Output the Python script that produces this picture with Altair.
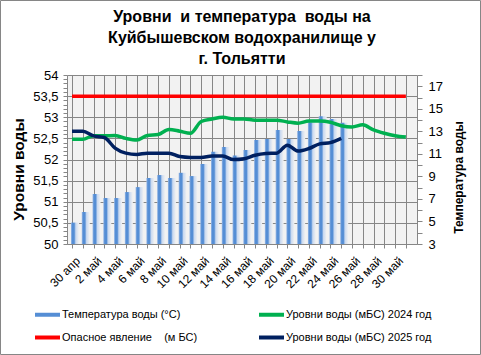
import json
import altair as alt
import pandas as pd

dates = ["30 апр", "1 май", "2 май", "3 май", "4 май", "5 май", "6 май", "7 май",
         "8 май", "9 май", "10 май", "11 май", "12 май", "13 май", "14 май", "15 май",
         "16 май", "17 май", "18 май", "19 май", "20 май", "21 май", "22 май", "23 май",
         "24 май", "25 май", "26 май", "27 май", "28 май", "29 май", "30 май", "31 май"]

temperature = [4.9, 5.84, 7.44, 7.08, 7.08, 7.61, 8.05, 8.86, 9.12, 8.86, 9.32, 9.03, 10.1,
               11.19, 11.61, 10.85, 11.34, 12.23, 12.32, 13.12, 12.32, 13.03, 13.8, 14.33,
               14.09, 13.77]

level_2024 = [52.48, 52.48, 52.56, 52.56, 52.57, 52.50, 52.46, 52.57, 52.59, 52.71, 52.67,
              52.62, 52.90, 52.96, 53.00, 52.96, 52.96, 52.93, 52.93, 52.93, 52.89, 52.86,
              52.91, 52.91, 52.88, 52.80, 52.77, 52.82, 52.70, 52.62, 52.56, 52.53]

level_2025 = [52.67, 52.67, 52.56, 52.52, 52.27, 52.15, 52.12, 52.15, 52.15, 52.15, 52.07,
              52.05, 52.05, 52.08, 52.08, 52.00, 52.02, 52.10, 52.14, 52.15, 52.34, 52.20,
              52.26, 52.37, 52.40, 52.50]

danger = [53.5, 53.5, 53.5, 53.5, 53.5, 53.5, 53.5, 53.5, 53.5, 53.5, 53.5, 53.5, 53.5,
          53.5, 53.5, 53.5, 53.5, 53.5, 53.5, 53.5, 53.5, 53.5, 53.5, 53.5, 53.5, 53.5,
          53.5, 53.5, 53.5, 53.5, 53.5, 53.5]

n_temp = "Температура воды (°С)"
n_2024 = "Уровни воды (мБС) 2024 год"
n_danger = "Опасное явление \u00a0\u00a0\u00a0(м БС)"
n_2025 = "Уровни воды (мБС) 2025 год"

# legend fills column by column: left column first, then right column
series_names = [n_temp, n_danger, n_2024, n_2025]
series_colors = ["#558ed5", "#ff0000", "#00b050", "#002060"]

left_ticks = [50.0, 50.1, 50.2, 50.3, 50.4, 50.5, 50.6, 50.7, 50.8, 50.9, 51.0, 51.1, 51.2,
              51.3, 51.4, 51.5, 51.6, 51.7, 51.8, 51.9, 52.0, 52.1, 52.2, 52.3, 52.4, 52.5,
              52.6, 52.7, 52.8, 52.9, 53.0, 53.1, 53.2, 53.3, 53.4, 53.5, 53.6, 53.7, 53.8,
              53.9, 54.0]
right_ticks = [3, 4, 5, 6, 7, 8, 9, 10, 11, 12, 13, 14, 15, 16, 17, 18]

title_lines = ["Уровни \u00a0и температура \u00a0воды на", "Куйбышевском водохранилище у", "г. Тольятти"]

# ---- tables ----
df_t = pd.DataFrame({"day": list(range(len(temperature))), "value": temperature})
rows = []
for name, vals in [(n_danger, danger), (n_2024, level_2024), (n_2025, level_2025)]:
    for i, v in enumerate(vals):
        rows.append({"day": i, "value": v, "series": name})
df_l = pd.DataFrame(rows)

FONT = "Liberation Sans"
GRID = "#868686"
W, H = 350, 169
PL, PT = 67, 75

xscale = alt.Scale(domain=[0, 31.57], nice=False, zero=False)
labels_js = json.dumps(dates, ensure_ascii=False)
xaxis = alt.Axis(values=list(range(32)), title=None, grid=True, gridColor=GRID,
                 gridWidth=1, domainColor=GRID, tickColor=GRID, tickSize=4,
                 labelAngle=-45, labelFontSize=12, labelFont=FONT, labelColor="#000",
                 labelOverlap=False, labelFlush=False, labelPadding=7, labelOffset=2,
                 labelExpr=f"datum.value % 2 == 0 ? {labels_js}[datum.value] : ''")

major_test = "abs(datum.value*2 - round(datum.value*2)) < 0.01"
yaxis_left = alt.Axis(orient="left", values=left_ticks, title="Уровни воды",
                      titleFont=FONT, titleFontSize=15.5, titleFontWeight="bold", titleColor="#000",
                      titlePadding=6, titleY=94,
                      grid=True, gridColor=GRID,
                      gridOpacity={"condition": {"test": major_test, "value": 1}, "value": 0},
                      domainColor=GRID, tickColor=GRID, tickSize=4,
                      labelFont=FONT, labelFontSize=13, labelColor="#000", labelPadding=5,
                      labelOverlap=False,
                      labelExpr=f"{major_test} ? replace(format(datum.value, '.1~f'), '.', ',') : ''")

yaxis_right = alt.Axis(orient="right", values=right_ticks, title="Температура воды",
                       titleFont=FONT, titleFontSize=12, titleFontWeight="bold", titleColor="#000",
                       titleAngle=-90, titleBaseline="top", titlePadding=11, titleY=102,
                       grid=False, domainColor=GRID, tickColor=GRID, tickSize=5,
                       labelFont=FONT, labelFontSize=13, labelColor="#000", labelPadding=6,
                       labelOverlap=False,
                       labelExpr="datum.value % 2 == 1 ? datum.label : ''")

grad = alt.LinearGradient(
    gradient="linear", x1=0, x2=1, y1=0, y2=0,
    stops=[alt.GradientStop(color="#9dbbe6", offset=0),
           alt.GradientStop(color="#558ed5", offset=0.18),
           alt.GradientStop(color="#558ed5", offset=0.4),
           alt.GradientStop(color="#c9d9f0", offset=0.6),
           alt.GradientStop(color="#f2f2f2", offset=1)])

bars = alt.Chart(df_t).mark_bar(width=8, xOffset=3, fill=grad).encode(
    x=alt.X("day:Q", scale=xscale, axis=xaxis),
    y=alt.Y("value:Q", scale=alt.Scale(domain=[3, 18], nice=False, zero=False), axis=yaxis_right),
    y2=alt.datum(3),
)

legend = alt.Legend(orient="none", legendX=-34, legendY=225, columns=2, columnPadding=53,
                    rowPadding=0, title=None, labelFont=FONT, labelFontSize=11,
                    labelColor="#000", labelLimit=400, symbolSize=625, labelOffset=0,
                    symbolType="stroke", symbolStrokeWidth=4, padding=0)

lines = alt.Chart(df_l).mark_line(strokeWidth=3.5, interpolate="monotone").encode(
    x=alt.X("day:Q", scale=xscale, axis=xaxis),
    y=alt.Y("value:Q", scale=alt.Scale(domain=[50, 54], nice=False, zero=False), axis=yaxis_left),
    color=alt.Color("series:N", scale=alt.Scale(domain=series_names, range=series_colors),
                    legend=legend),
    detail="series:N",
)

frame = alt.Chart(pd.DataFrame({"a": [0]})).mark_rect(filled=False, stroke=GRID, strokeWidth=1).encode(
    x=alt.value(-PL + 0.5), x2=alt.value(481 - PL - 0.5),
    y=alt.value(-PT + 0.5), y2=alt.value(355 - PT - 0.5),
)

chart = alt.layer(bars, lines, frame).resolve_scale(y="independent").properties(
    width=W, height=H,
    autosize=alt.AutoSizeParams(type="none"),
    padding={"left": PL, "top": PT, "right": 481 - PL - W, "bottom": 355 - PT - H},
    title=alt.TitleParams(text=title_lines, font=FONT, fontSize=16, fontWeight="bold",
                          color="#000", anchor="middle", lineHeight=21, offset=-66.5),
    background="white",
).configure_view(fill="#f2f2f2", stroke=None)

chart.save("out.html", embed_options={"renderer": "svg", "actions": False})
